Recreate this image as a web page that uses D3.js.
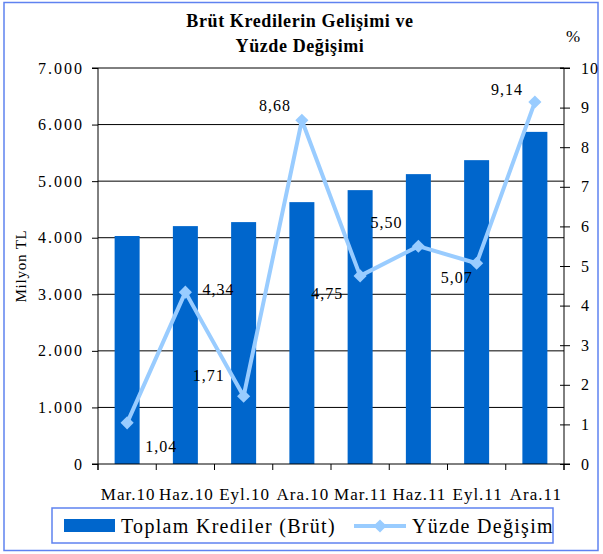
<!DOCTYPE html>
<html>
<head>
<meta charset="utf-8">
<script src="https://cdn.jsdelivr.net/npm/d3@7"></script>
<style>
  body { margin: 0; background: #fff; }
  text { font-family: 'Liberation Serif', 'Times New Roman', serif; fill: #000; }
</style>
</head>
<body>
<svg id="chart" width="603" height="554"></svg>
<script>
// data
const periods = ['Mar.10', 'Haz.10', 'Eyl.10', 'Ara.10', 'Mar.11', 'Haz.11', 'Eyl.11', 'Ara.11']
const credits = [4030, 4205, 4276, 4629, 4841, 5124, 5371, 5871]
const pctChange = [1.04, 4.34, 1.71, 8.68, 4.75, 5.50, 5.07, 9.14]
const leftTicks = [0, 1000, 2000, 3000, 4000, 5000, 6000, 7000]
const rightTicks = [0, 1, 2, 3, 4, 5, 6, 7, 8, 9, 10]
// label offsets (dx, baseline dy) from the marker, as they sit in the picture
const labelOffsets = [[34, 29], [33, 3], [-35, -15], [-27, -9], [-33, 23], [-32, -18], [-20, 20], [-28, -7]]

const svg = d3.select('#chart')
const margin = { left: 98, right: 564, top: 68, bottom: 464 }
const barColor = '#0066cc'
const lineColor = '#99ccff'

// outer frame
svg.append('rect')
  .attr('x', 4).attr('y', 2.5).attr('width', 594).attr('height', 548)
  .attr('fill', 'none').attr('stroke', '#5f82f0').attr('stroke-width', 1.5)

const x = d3.scaleBand().domain(periods).range([margin.left, margin.right])
const y = d3.scaleLinear().domain([0, 7000]).range([margin.bottom, margin.top])
const y2 = d3.scaleLinear().domain([0, 10]).range([margin.bottom, margin.top])
const cx = d => x(d) + x.bandwidth() / 2

// gridlines
svg.append('g')
  .selectAll('line')
  .data(leftTicks.slice(1))
  .enter()
  .append('line')
  .attr('x1', margin.left).attr('x2', margin.right)
  .attr('y1', d => y(d)).attr('y2', d => y(d))
  .attr('stroke', '#000').attr('stroke-width', 1)

// bars
const bw = 25
svg.append('g')
  .selectAll('rect')
  .data(credits)
  .enter()
  .append('rect')
  .attr('x', (d, i) => cx(periods[i]) - bw / 2)
  .attr('y', d => y(d))
  .attr('width', bw)
  .attr('height', d => margin.bottom - y(d))
  .attr('fill', barColor)

// left axis
const leftAxis = d3.axisLeft(y)
  .tickValues(leftTicks)
  .tickSize(6)
  .tickPadding(8)
  .tickFormat(d => d === 0 ? '0' : d3.format(',')(d).replace(',', '.'))
const gl = svg.append('g').attr('transform', `translate(${margin.left},0)`).call(leftAxis)
gl.select('.domain').attr('d', `M-6,${margin.top}H0V${margin.bottom + 6}`)
gl.selectAll('.tick text').attr('letter-spacing', 2)

// right axis
const rightAxis = d3.axisRight(y2).tickValues(rightTicks).tickSize(6).tickPadding(11)
const gr = svg.append('g').attr('transform', `translate(${margin.right},0)`).call(rightAxis)
gr.selectAll('.tick line').attr('x1', -4)
gr.select('.domain').attr('d', `M-4,${margin.top}H6M0,${margin.top}V${margin.bottom + 6}`)
gr.selectAll('.tick text').attr('letter-spacing', 1)

// bottom axis, ticks on the category edges
const gb = svg.append('g')
gb.append('line')
  .attr('x1', margin.left - 6).attr('x2', margin.right + 6)
  .attr('y1', margin.bottom).attr('y2', margin.bottom)
  .attr('stroke', '#000')
gb.selectAll('line.edge')
  .data(periods.concat(['end']))
  .enter()
  .append('line')
  .attr('class', 'edge')
  .attr('x1', (d, i) => margin.left + i * x.step())
  .attr('x2', (d, i) => margin.left + i * x.step())
  .attr('y1', margin.bottom).attr('y2', margin.bottom + 6)
  .attr('stroke', '#000')
gb.selectAll('text')
  .data(periods)
  .enter()
  .append('text')
  .attr('x', d => cx(d) + 1)
  .attr('y', 500)
  .attr('text-anchor', 'middle')
  .attr('font-size', 17)
  .attr('letter-spacing', 1)
  .text(d => d)

svg.selectAll('.tick text').attr('font-size', 16).attr('fill', '#000')
svg.selectAll('.domain, .tick line').attr('stroke', '#000')

// line series
const px = (d, i) => cx(periods[i])
const line = d3.line().x(px).y(d => y2(d))
svg.append('path')
  .datum(pctChange)
  .attr('d', line)
  .attr('fill', 'none')
  .attr('stroke', lineColor)
  .attr('stroke-width', 4)
  .attr('stroke-linejoin', 'round')

svg.append('g')
  .selectAll('path')
  .data(pctChange)
  .enter()
  .append('path')
  .attr('d', d3.symbol().type(d3.symbolDiamond2).size(110))
  .attr('transform', (d, i) => `translate(${px(d, i)},${y2(d)})`)
  .attr('fill', lineColor)

svg.append('g')
  .selectAll('text')
  .data(pctChange)
  .enter()
  .append('text')
  .attr('x', (d, i) => px(d, i) + labelOffsets[i][0])
  .attr('y', (d, i) => y2(d) + labelOffsets[i][1])
  .attr('text-anchor', 'middle')
  .attr('font-size', 16)
  .attr('letter-spacing', 1)
  .text(d => d.toFixed(2).replace('.', ','))

// title
const title = svg.append('text')
  .attr('x', 300).attr('text-anchor', 'middle')
  .attr('font-size', 18).attr('font-weight', 'bold').attr('letter-spacing', 0.6)
title.append('tspan').attr('x', 300).attr('y', 27).text('Brüt Kredilerin Gelişimi ve')
title.append('tspan').attr('x', 300).attr('y', 52).text('Yüzde Değişimi')

svg.append('text')
  .attr('x', 573).attr('y', 42).attr('text-anchor', 'middle')
  .attr('font-size', 17).text('%')

svg.append('text')
  .attr('transform', 'translate(26,266) rotate(-90)')
  .attr('text-anchor', 'middle')
  .attr('font-size', 15)
  .attr('letter-spacing', 0.8)
  .text('Milyon TL')

// legend
const lg = svg.append('g')
lg.append('rect')
  .attr('x', 52).attr('y', 508).attr('width', 501).attr('height', 35)
  .attr('fill', '#fff').attr('stroke', '#5f82f0').attr('stroke-width', 1.5)
lg.append('rect')
  .attr('x', 64).attr('y', 519).attr('width', 51).attr('height', 13)
  .attr('fill', barColor)
lg.append('text')
  .attr('x', 121).attr('y', 533).attr('font-size', 20).attr('letter-spacing', 1.3)
  .text('Toplam Krediler (Brüt)')
lg.append('line')
  .attr('x1', 354).attr('x2', 406).attr('y1', 526).attr('y2', 526)
  .attr('stroke', lineColor).attr('stroke-width', 4)
lg.append('path')
  .attr('d', d3.symbol().type(d3.symbolDiamond2).size(110))
  .attr('transform', 'translate(380,526)')
  .attr('fill', lineColor)
lg.append('text')
  .attr('x', 412).attr('y', 533).attr('font-size', 20).attr('letter-spacing', 1.3)
  .text('Yüzde Değişim')
</script>
</body>
</html>
